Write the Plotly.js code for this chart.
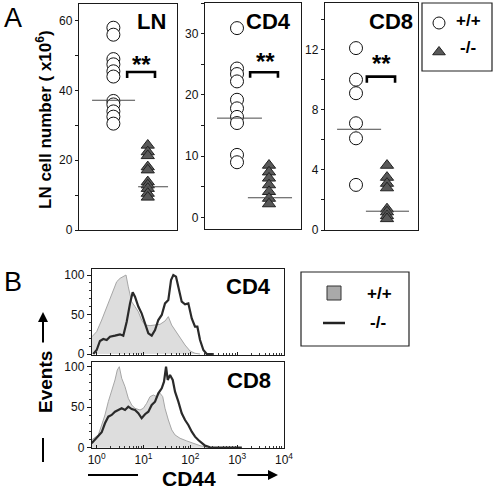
<!DOCTYPE html>
<html><head><meta charset="utf-8">
<script src="https://cdn.plot.ly/plotly-3.0.1.min.js"></script>
<style>html,body{margin:0;padding:0;background:#fff}#chart{width:495px;height:490px}</style>
</head><body><div id="chart"></div>
<script>
// ---------- Panel A data (cell numbers, x10^6) ----------
const groups = ['+/+', '-/-'];
const lnWT  = [58, 56, 49, 47.5, 45.5, 44, 37, 36, 34, 32.5, 30.5];
const lnKO  = [24.3, 22.4, 21.3, 18.1, 17.2, 13.8, 12.9, 11.9, 10.5, 9.4];
const lnMedian  = [37.2, 12.4];
const cd4WT = [30.9, 24.3, 23.4, 22.2, 19.2, 17.8, 16.4, 15.4, 10.2, 9.0];
const cd4KO = [8.5, 7.4, 6.4, 5.3, 4.2, 3.1, 2.2];
const cd4Median = [16.2, 3.2];
const cd8WT = [12.1, 10.0, 9.1, 7.1, 6.1, 3.0];
const cd8KO = [4.3, 3.5, 3.1, 2.8, 1.4, 1.2, 0.95, 0.75];
const cd8Median = [6.7, 1.25];

// tick steps: [labelled, unlabelled minor]
const lnTickStep  = [20, 10];
const cd4TickStep = [10, 5];
const cd8TickStep = [4, 2];

// ---------- Panel B data (CD44 histograms, x in log10 units) ----------
const cd4WTLog = [-0.10, 0, 0.107, 0.214, 0.32, 0.427, 0.50, 0.57, 0.626, 0.675, 0.748, 0.818, 0.889, 0.96, 1.03, 1.14, 1.246, 1.353, 1.46, 1.53, 1.60, 1.673, 1.78, 1.886, 1.994, 2.10, 2.207];
const cd4WTEv  = [21.9, 28.3, 43, 60, 74.7, 91.5, 95.8, 97.9, 100, 85, 66, 60, 53.6, 43, 36.7, 35.9, 36.7, 37.6, 41.8, 47.3, 36.7, 30.4, 19.8, 11.4, 3.8, 0.9, 0];
const cd4KOLog = [-0.073, 0, 0.07, 0.141, 0.214, 0.284, 0.391, 0.498, 0.568, 0.641, 0.712, 0.769, 0.818, 0.889, 0.96, 1.032, 1.103, 1.175, 1.246, 1.316, 1.389, 1.459, 1.53, 1.588, 1.637, 1.694, 1.744, 1.816, 1.887, 1.957, 2.03, 2.10, 2.15, 2.207, 2.278, 2.35, 2.5];
const cd4KOEv  = [0, 5, 16.5, 19, 17.7, 21.9, 23.2, 24.9, 23.2, 40.9, 64.1, 78.1, 72.5, 60, 51.5, 38.8, 26.2, 23.2, 30.4, 43, 49.4, 64.1, 68.4, 93.7, 100, 97.9, 83.1, 66.2, 62.9, 64.1, 45.1, 34.6, 34.6, 17.7, 5, 0, 0];
const cd8WTLog = [-0.107, -0.036, 0.034, 0.107, 0.177, 0.248, 0.32, 0.391, 0.44, 0.483, 0.534, 0.605, 0.675, 0.748, 0.818, 0.925, 0.996, 1.068, 1.139, 1.21, 1.282, 1.353, 1.41, 1.459, 1.53, 1.603, 1.673, 1.78, 1.923, 2.064, 2.207, 2.35];
const cd8WTEv  = [9.5, 12.3, 15.7, 28, 40.4, 56.8, 69.1, 83.6, 95.9, 100, 85.7, 75.3, 61, 52.7, 48.6, 46.5, 48.6, 54.8, 63, 65, 63, 67.2, 63, 48.6, 34.2, 21.9, 15.7, 11.6, 8.3, 5.4, 2.5, 0.5];
const cd8KOLog = [-0.107, -0.036, 0.034, 0.107, 0.177, 0.248, 0.32, 0.391, 0.462, 0.534, 0.605, 0.675, 0.748, 0.818, 0.889, 0.96, 1.032, 1.103, 1.175, 1.246, 1.316, 1.389, 1.438, 1.481, 1.517, 1.566, 1.624, 1.673, 1.744, 1.816, 1.887, 1.957, 2.03, 2.10, 2.17, 2.244, 2.314, 2.42, 3.1];
const cd8KOEv  = [5.4, 9.5, 13.6, 19, 30.1, 38.3, 40.4, 44.4, 46.5, 48.6, 46.5, 50.6, 47.7, 46.5, 42.5, 36.3, 41.3, 44.4, 52.7, 56.8, 67.2, 73.3, 81.5, 100, 83.6, 89.8, 83.6, 69.1, 56.8, 42.5, 34.2, 28, 19.8, 13.6, 9.5, 5.4, 2.5, 0.5, 0];

const decadeTicks = [0, 1, 2, 3, 4];
const decadeText  = ['10<sup>0</sup>', '10<sup>1</sup>', '10<sup>2</sup>', '10<sup>3</sup>', '10<sup>4</sup>'];

// ---------- helpers ----------
const W = 495, H = 490;
const px = x => x / W, py = y => 1 - y / H;
const FONT = 'Liberation Sans, Arial, Helvetica, sans-serif';
const minorLog = [];
[0, 1, 2, 3].forEach(d => { for (let k = 2; k <= 9; k++) minorLog.push(d + Math.log10(k)); });

function boxAxis(extra) {
  return Object.assign({showline: true, mirror: true, linecolor: '#1a1a1a', linewidth: 1.2,
    showgrid: false, zeroline: false, fixedrange: true,
    tickfont: {family: FONT, size: 12, color: '#111'}, tickcolor: '#1a1a1a', tickwidth: 1}, extra);
}
function yScatterAxis(domain, range, step, anchor) {
  return boxAxis({domain: domain, range: range, tick0: 0, dtick: step[0], ticks: 'outside', ticklen: 3,
    minor: {tick0: 0, dtick: step[1], ticks: 'outside', ticklen: 3, tickcolor: '#1a1a1a'}, anchor: anchor});
}

const traces = [];
function scatterPanel(wt, ko, med, xa, ya, wtSpan, koSpan) {
  traces.push({x: wt.map(() => 1), y: wt, xaxis: xa, yaxis: ya, mode: 'markers', name: groups[0],
    marker: {symbol: 'circle', size: 13, color: '#fff', line: {color: '#111', width: 1}}, hoverinfo: 'y'});
  traces.push({x: ko.map(() => 2), y: ko, xaxis: xa, yaxis: ya, mode: 'markers', name: groups[1],
    marker: {symbol: 'triangle-up', size: 11.5, color: '#595959', line: {color: '#222', width: 1}}, hoverinfo: 'y'});
  traces.push({x: wtSpan, y: [med[0], med[0]], xaxis: xa, yaxis: ya, mode: 'lines',
    line: {color: '#4a4a4a', width: 1}, hoverinfo: 'skip'});
  traces.push({x: koSpan, y: [med[1], med[1]], xaxis: xa, yaxis: ya, mode: 'lines',
    line: {color: '#4a4a4a', width: 1}, hoverinfo: 'skip'});
}
scatterPanel(lnWT, lnKO, lnMedian, 'x', 'y', [0.38, 1.63], [1.72, 2.59]);
scatterPanel(cd4WT, cd4KO, cd4Median, 'x2', 'y2', [0.375, 1.78], [1.34, 2.72]);
scatterPanel(cd8WT, cd8KO, cd8Median, 'x3', 'y3', [0.39, 1.81], [1.32, 2.71]);

function histPanel(wtX, wtY, koX, koY, xa, ya) {
  traces.push({x: wtX, y: wtY, xaxis: xa, yaxis: ya, mode: 'lines', fill: 'tozeroy',
    fillcolor: '#dddddd', line: {color: '#a6a6a6', width: 1}, hoverinfo: 'skip'});
  traces.push({x: koX, y: koY, xaxis: xa, yaxis: ya, mode: 'lines',
    line: {color: '#2a2a2a', width: 2.2}, hoverinfo: 'skip'});
}
histPanel(cd4WTLog, cd4WTEv, cd4KOLog, cd4KOEv, 'x4', 'y4');
histPanel(cd8WTLog, cd8WTEv, cd8KOLog, cd8KOEv, 'x5', 'y5');

// legend glyphs on a full-page pixel overlay axis
traces.push({x: [439], y: [23], xaxis: 'x6', yaxis: 'y6', mode: 'markers', hoverinfo: 'skip',
  marker: {symbol: 'circle', size: 12, color: '#fff', line: {color: '#111', width: 1}}});
traces.push({x: [439], y: [52], xaxis: 'x6', yaxis: 'y6', mode: 'markers', hoverinfo: 'skip',
  marker: {symbol: 'triangle-up', size: 11, color: '#595959', line: {color: '#222', width: 1}}});
traces.push({x: [334], y: [293], xaxis: 'x6', yaxis: 'y6', mode: 'markers', hoverinfo: 'skip',
  marker: {symbol: 'square', size: 14, color: '#a9a9a9', line: {color: '#333', width: 1}}});
traces.push({x: [323, 345], y: [323, 323], xaxis: 'x6', yaxis: 'y6', mode: 'lines', hoverinfo: 'skip',
  line: {color: '#222', width: 2.5}});

const ann = [];
function txt(t, x, y, size, isBold, xanchor, extra) {
  ann.push(Object.assign({text: isBold ? '<b>' + t + '</b>' : t, x: px(x), y: py(y), xref: 'paper', yref: 'paper',
    showarrow: false, xanchor: xanchor || 'center', yanchor: 'middle',
    font: {family: FONT, size: size, color: '#000'}}, extra || {}));
}
txt('A', 2, 18, 27, false, 'left');
txt('B', 2, 282, 27, false, 'left');
txt('LN', 168, 22, 22, true, 'right');
txt('CD4', 293, 22, 22, true, 'right');
txt('CD8', 415, 22, 22, true, 'right');
txt('CD4', 273, 286, 22, true, 'right');
txt('CD8', 273, 380, 22, true, 'right');
txt('LN cell number ( x10<sup>6</sup>)', 44, 120, 17, true, 'center', {textangle: -90});
txt('Events', 45, 382, 19, true, 'center', {textangle: -90});
txt('CD44', 189, 478, 21, true, 'center');
txt('+/+', 468, 21, 17, true, 'center');
txt('-/-', 468, 48, 17, true, 'center');
txt('+/+', 379, 293, 17, true, 'center');
txt('-/-', 378, 322, 17, true, 'center');

// significance stars (axis coordinates)
function stars(xa, ya, x, y) {
  ann.push({text: '<b>**</b>', x: x, y: y, xref: xa, yref: ya, showarrow: false, xanchor: 'center', yanchor: 'middle',
    font: {family: FONT, size: 24, color: '#000'}});
}
stars('x', 'y', 1.82, 47.5);
stars('x2', 'y2', 1.89, 25.4);
stars('x3', 'y3', 1.81, 11.05);

// arrows
ann.push({x: px(43), y: py(312), xref: 'paper', yref: 'paper', ax: 0, ay: 32, text: '', showarrow: true,
  arrowhead: 2, arrowsize: 1, arrowwidth: 2, arrowcolor: '#000'});
ann.push({x: px(278), y: py(475), xref: 'paper', yref: 'paper', ax: -42, ay: 0, text: '', showarrow: true,
  arrowhead: 2, arrowsize: 1, arrowwidth: 2, arrowcolor: '#000'});

const shapes = [];
function bracket(xa, ya, x0, x1, yTop, yEnd) {
  shapes.push({type: 'path', xref: xa, yref: ya,
    path: `M${x0},${yEnd} L${x0},${yTop} L${x1},${yTop} L${x1},${yEnd}`, line: {color: '#000', width: 2.6}});
}
bracket('x', 'y', 1.40, 2.21, 45.3, 43.6);
bracket('x2', 'y2', 1.41, 2.28, 23.7, 22.8);
bracket('x3', 'y3', 1.35, 2.26, 10.2, 9.8);
// legend boxes
shapes.push({type: 'rect', xref: 'paper', yref: 'paper', x0: px(422), x1: px(492), y0: py(71), y1: py(3), line: {color: '#222', width: 1.2}});
shapes.push({type: 'rect', xref: 'paper', yref: 'paper', x0: px(301), x1: px(409), y0: py(346), y1: py(272), line: {color: '#222', width: 1.2}});
// axis-title rules
shapes.push({type: 'line', xref: 'paper', yref: 'paper', x0: px(43), x1: px(43), y0: py(438), y1: py(462), line: {color: '#000', width: 2}});
shapes.push({type: 'line', xref: 'paper', yref: 'paper', x0: px(88), x1: px(138), y0: py(475), y1: py(475), line: {color: '#000', width: 2}});

const layout = {
  width: W, height: H, margin: {l: 0, r: 0, t: 0, b: 0}, showlegend: false,
  paper_bgcolor: '#fff', plot_bgcolor: 'rgba(0,0,0,0)', font: {family: FONT, color: '#000'},
  xaxis:  boxAxis({domain: [px(79), px(177)], range: [0, 2.85], showticklabels: false, ticks: '', anchor: 'y'}),
  yaxis:  yScatterAxis([py(230), py(4)], [0, 64.8], lnTickStep, 'x'),
  xaxis2: boxAxis({domain: [px(205), px(301)], range: [0, 3], showticklabels: false, ticks: '', anchor: 'y2'}),
  yaxis2: yScatterAxis([py(229), py(3)], [-1.9, 35], cd4TickStep, 'x2'),
  xaxis3: boxAxis({domain: [px(325), px(418)], range: [0, 3], showticklabels: false, ticks: '', anchor: 'y3'}),
  yaxis3: yScatterAxis([py(230), py(3)], [0, 15.1], cd8TickStep, 'x3'),
  xaxis4: boxAxis({domain: [px(92), px(284)], range: [-0.1, 4.0], tickmode: 'array', tickvals: decadeTicks, showticklabels: false,
    ticks: 'inside', ticklen: 3, minor: {tickmode: 'array', tickvals: minorLog, ticks: 'inside', ticklen: 2, tickcolor: '#333'}, anchor: 'y4'}),
  yaxis4: boxAxis({domain: [py(355), py(269)], range: [-1.27, 107.6], tick0: 0, dtick: 50, ticks: 'outside', ticklen: 4,
    minor: {dtick: 10, tick0: 0, ticks: 'outside', ticklen: 2, tickcolor: '#333'}, anchor: 'x4'}),
  xaxis5: boxAxis({domain: [px(92), px(284)], range: [-0.1, 4.0], tickmode: 'array', tickvals: decadeTicks, ticktext: decadeText,
    ticks: 'inside', ticklen: 3, minor: {tickmode: 'array', tickvals: minorLog, ticks: 'inside', ticklen: 2, tickcolor: '#333'}, anchor: 'y5'}),
  yaxis5: boxAxis({domain: [py(448), py(362)], range: [-0.4, 105.8], tick0: 0, dtick: 50, ticks: 'outside', ticklen: 4,
    minor: {dtick: 10, tick0: 0, ticks: 'outside', ticklen: 2, tickcolor: '#333'}, anchor: 'x5'}),
  xaxis6: {domain: [0, 1], range: [0, W], visible: false, fixedrange: true, anchor: 'y6'},
  yaxis6: {domain: [0, 1], range: [H, 0], visible: false, fixedrange: true, anchor: 'x6'},
  annotations: ann, shapes: shapes
};
Plotly.newPlot('chart', traces, layout, {staticPlot: true, displayModeBar: false});
</script></body></html>
